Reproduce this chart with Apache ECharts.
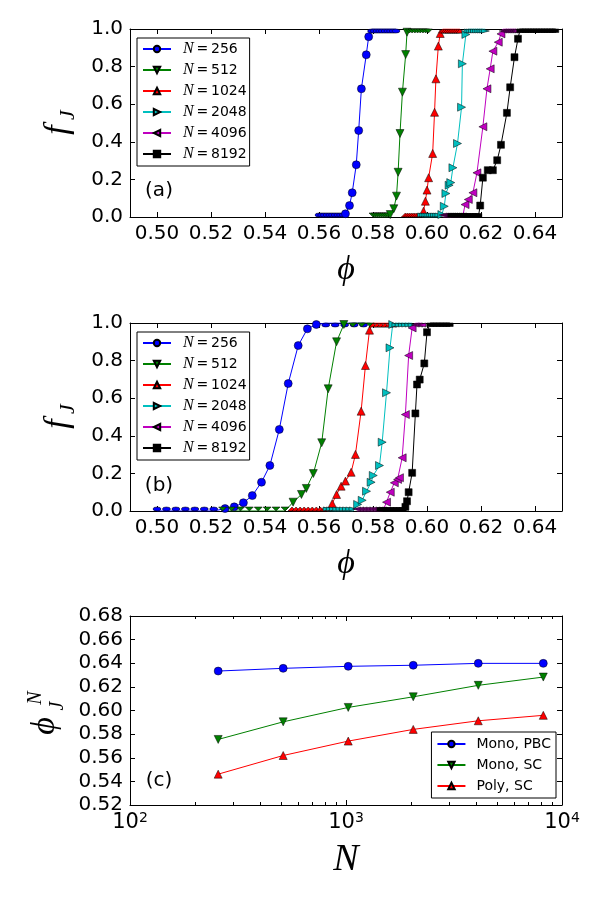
<!DOCTYPE html>
<html>
<head>
<meta charset="utf-8">
<script src="https://cdn.jsdelivr.net/npm/echarts@6/dist/echarts.min.js"></script>
<style>
  html, body { margin: 0; padding: 0; background: #fff; }
  #chart { width: 600px; height: 900px; }
</style>
</head>
<body>
<div id="chart"></div>
<script>
// tick labels
const phiTicks = [0.50, 0.52, 0.54, 0.56, 0.58, 0.60, 0.62, 0.64]
const fTicks = [0.0, 0.2, 0.4, 0.6, 0.8, 1.0]
const phiNTicks = [0.52, 0.54, 0.56, 0.58, 0.60, 0.62, 0.64, 0.66, 0.68]
const nTicks = [100, 1000, 10000]
const nMinorTicks = [200, 300, 400, 500, 600, 700, 800, 900, 2000, 3000, 4000, 5000, 6000, 7000, 8000, 9000]

const sizeNames = ['N=256', 'N=512', 'N=1024', 'N=2048', 'N=4096', 'N=8192']

// panel (a)
const phiA256 = [0.560, 0.561, 0.562, 0.563, 0.564, 0.565, 0.566, 0.567, 0.568, 0.569, 0.5698, 0.5713, 0.5723, 0.5738, 0.5747, 0.5757, 0.5775, 0.5784, 0.5795, 0.5805, 0.5815, 0.5825, 0.5835, 0.5845, 0.5855, 0.5865, 0.5875, 0.5885]
const fA256 = [0, 0, 0, 0, 0, 0, 0, 0, 0, 0, 0.017, 0.061, 0.129, 0.278, 0.460, 0.682, 0.863, 0.959, 1, 1, 1, 1, 1, 1, 1, 1, 1, 1]
const phiA512 = [0.5800, 0.5808, 0.5816, 0.5824, 0.5832, 0.5840, 0.5848, 0.5856, 0.5864, 0.5877, 0.5887, 0.5893, 0.5900, 0.5909, 0.5921, 0.5926, 0.5935, 0.5945, 0.5955, 0.5965, 0.5975, 0.5985, 0.5995, 0.6005]
const fA512 = [0, 0, 0, 0, 0, 0, 0, 0, 0.013, 0.044, 0.111, 0.238, 0.444, 0.664, 0.864, 0.983, 1, 1, 1, 1, 1, 1, 1, 1]
const phiA1024 = [0.5920, 0.5928, 0.5936, 0.5944, 0.5952, 0.5960, 0.5968, 0.5976, 0.5987, 0.5994, 0.6000, 0.6006, 0.6021, 0.6028, 0.6033, 0.6042, 0.6049, 0.6058, 0.6066, 0.6074, 0.6082, 0.6090, 0.6098, 0.6106, 0.6114, 0.6122]
const fA1024 = [0, 0, 0, 0, 0, 0, 0, 0, 0.031, 0.084, 0.143, 0.209, 0.338, 0.557, 0.735, 0.909, 0.976, 1, 1, 1, 1, 1, 1, 1, 1, 1]
const phiA2048 = [0.5980, 0.5988, 0.5996, 0.6004, 0.6012, 0.6020, 0.6028, 0.6036, 0.6044, 0.6055, 0.6064, 0.6070, 0.6082, 0.6088, 0.6096, 0.6113, 0.6128, 0.6131, 0.6144, 0.6152, 0.6160, 0.6168, 0.6176, 0.6184, 0.6192, 0.6200, 0.6208, 0.6216]
const fA2048 = [0, 0, 0, 0, 0, 0, 0, 0, 0, 0.013, 0.057, 0.125, 0.169, 0.183, 0.262, 0.391, 0.584, 0.815, 0.971, 1, 1, 1, 1, 1, 1, 1, 1, 1]
const phiA4096 = [0.6060, 0.6068, 0.6076, 0.6084, 0.6092, 0.6100, 0.6108, 0.6116, 0.6124, 0.6132, 0.6141, 0.6153, 0.6170, 0.6185, 0.6207, 0.6222, 0.6234, 0.6244, 0.6264, 0.6274, 0.6282, 0.6290, 0.6298, 0.6306, 0.6314, 0.6322, 0.6330]
const fA4096 = [0, 0, 0, 0, 0, 0, 0, 0, 0, 0, 0.066, 0.093, 0.129, 0.235, 0.480, 0.682, 0.788, 0.882, 0.930, 0.974, 1, 1, 1, 1, 1, 1, 1]
const phiA8192 = [0.6090, 0.6100, 0.6110, 0.6120, 0.6130, 0.6140, 0.6150, 0.6160, 0.6170, 0.6180, 0.6190, 0.6197, 0.6207, 0.6225, 0.6244, 0.6260, 0.6274, 0.6296, 0.6308, 0.6324, 0.6337, 0.6345, 0.6355, 0.6365, 0.6375, 0.6385, 0.6395, 0.6405, 0.6415, 0.6425, 0.6435, 0.6445, 0.6455, 0.6465, 0.6475]
const fA8192 = [0, 0, 0, 0, 0, 0, 0, 0, 0, 0, 0, 0.061, 0.209, 0.249, 0.249, 0.302, 0.384, 0.554, 0.690, 0.850, 0.948, 1, 1, 1, 1, 1, 1, 1, 1, 1, 1, 1, 1, 1, 1]

// panel (b)
const phiB256 = [0.5000, 0.5035, 0.5070, 0.5105, 0.5140, 0.5175, 0.5210, 0.5252, 0.5286, 0.5320, 0.5353, 0.5387, 0.5418, 0.5453, 0.5486, 0.5523, 0.5557, 0.5590, 0.5625, 0.5660, 0.5695, 0.5730, 0.5765]
const fB256 = [0, 0, 0, 0, 0, 0, 0, 0.013, 0.022, 0.044, 0.082, 0.153, 0.242, 0.434, 0.678, 0.880, 0.969, 0.992, 1, 1, 1, 1, 1]
const phiB512 = [0.5243, 0.5276, 0.5309, 0.5342, 0.5375, 0.5408, 0.5441, 0.5474, 0.5504, 0.5535, 0.5553, 0.5579, 0.5610, 0.5634, 0.5665, 0.5692, 0.5725, 0.5758, 0.5790]
const fB512 = [0, 0, 0, 0, 0, 0, 0, 0, 0.047, 0.088, 0.120, 0.199, 0.363, 0.650, 0.900, 0.992, 1, 1, 1]
const phiB1024 = [0.5500, 0.5515, 0.5530, 0.5545, 0.5560, 0.5575, 0.5590, 0.5605, 0.5620, 0.5635, 0.5649, 0.5665, 0.5682, 0.5698, 0.5719, 0.5735, 0.5756, 0.5772, 0.5787, 0.5800, 0.5815, 0.5830, 0.5845, 0.5860, 0.5875]
const fB1024 = [0, 0, 0, 0, 0, 0, 0, 0, 0, 0, 0.040, 0.088, 0.132, 0.159, 0.206, 0.301, 0.531, 0.774, 0.962, 1, 1, 1, 1, 1, 1]
const phiB2048 = [0.5630, 0.5642, 0.5654, 0.5666, 0.5678, 0.5690, 0.5702, 0.5714, 0.5726, 0.5743, 0.5760, 0.5776, 0.5793, 0.5801, 0.5824, 0.5834, 0.5850, 0.5863, 0.5873, 0.5885, 0.5897, 0.5909, 0.5921, 0.5933, 0.5945]
const fB2048 = [0, 0, 0, 0, 0, 0, 0, 0, 0, 0.035, 0.057, 0.105, 0.153, 0.189, 0.242, 0.366, 0.629, 0.868, 0.992, 1, 1, 1, 1, 1, 1]
const phiB4096 = [0.5740, 0.5752, 0.5764, 0.5776, 0.5788, 0.5800, 0.5812, 0.5824, 0.5836, 0.5850, 0.5864, 0.5879, 0.5891, 0.5898, 0.5908, 0.5920, 0.5932, 0.5945, 0.5957, 0.5969, 0.5981]
const fB4096 = [0, 0, 0, 0, 0, 0, 0, 0, 0, 0.047, 0.100, 0.150, 0.168, 0.177, 0.283, 0.513, 0.827, 0.974, 1, 1, 1]
const phiB8192 = [0.5828, 0.5840, 0.5852, 0.5864, 0.5876, 0.5888, 0.5900, 0.5910, 0.5920, 0.5926, 0.5932, 0.5945, 0.5957, 0.5963, 0.5973, 0.5990, 0.6000, 0.6012, 0.6024, 0.6036, 0.6048, 0.6060, 0.6072, 0.6084]
const fB8192 = [0, 0, 0, 0, 0, 0, 0, 0, 0.022, 0.052, 0.100, 0.203, 0.519, 0.673, 0.699, 0.785, 0.951, 1, 1, 1, 1, 1, 1, 1]

// panel (c)
const nValues = [256, 512, 1024, 2048, 4096, 8192]
const phiMonoPBC = [0.6334, 0.6357, 0.6374, 0.6383, 0.6399, 0.6399]
const phiMonoSC = [0.5755, 0.5904, 0.6026, 0.6116, 0.6213, 0.6283]
const phiPolySC = [0.5461, 0.5619, 0.5741, 0.5840, 0.5913, 0.5959]

const markers = [
  { symbol: 'circle', color: '#0000ff', size: 8 },
  { symbol: 'path://M0,0L2,0L1,2Z', color: '#008000', size: 8 },
  { symbol: 'path://M1,0L2,2L0,2Z', color: '#ff0000', size: 8 },
  { symbol: 'path://M0,0L2,1L0,2Z', color: '#00bfbf', size: 8 },
  { symbol: 'path://M2,0L0,1L2,2Z', color: '#bf00bf', size: 8 },
  { symbol: 'rect', color: '#000000', size: 7 }
]

const FONT = 'DejaVu Sans'
const MATH = 'Liberation Serif'
const axisLine = { show: true, onZero: false, lineStyle: { color: '#000', width: 1 } }
const tickStyle = { color: '#000', width: 1 }
const labelStyle = { color: '#000', fontSize: 20, fontFamily: FONT }

const grid = [
  { left: 130, top: 29, width: 432, height: 188 },
  { left: 130, top: 323, width: 432, height: 188 },
  { left: 130, top: 616, width: 432, height: 189 }
]
const xAxis = []
const yAxis = []

function ticksOnly(values, len) {
  return { show: true, inside: true, length: len, customValues: values, lineStyle: tickStyle }
}

// panels (a) and (b): phi vs f_J, four framed sides
for (let g = 0; g < 2; g++) {
  xAxis.push({
    type: 'value', gridIndex: g, position: 'bottom', min: 0.49, max: 0.65,
    axisLine, splitLine: { show: false }, axisTick: ticksOnly(phiTicks, 5),
    axisLabel: Object.assign({ customValues: phiTicks, margin: 7, formatter: v => v.toFixed(2) }, labelStyle)
  })
  xAxis.push({
    type: 'value', gridIndex: g, position: 'top', min: 0.49, max: 0.65,
    axisLine, splitLine: { show: false }, axisTick: ticksOnly(phiTicks, 5), axisLabel: { show: false }
  })
  yAxis.push({
    type: 'value', gridIndex: g, position: 'left', min: 0, max: 1,
    axisLine, splitLine: { show: false }, axisTick: ticksOnly(fTicks, 5),
    axisLabel: Object.assign({ customValues: fTicks, margin: 7, formatter: v => v.toFixed(1) }, labelStyle)
  })
  yAxis.push({
    type: 'value', gridIndex: g, position: 'right', min: 0, max: 1,
    axisLine, splitLine: { show: false }, axisTick: ticksOnly(fTicks, 5), axisLabel: { show: false }
  })
}

// panel (c): log N vs phi_J^N
xAxis.push({
  type: 'log', logBase: 10, gridIndex: 2, position: 'bottom', min: 100, max: 10000,
  axisLine, splitLine: { show: false }, axisTick: ticksOnly(nTicks, 5),
  axisLabel: {
    customValues: nTicks, margin: 6, color: '#000',
    formatter: v => '{b|10}{s|' + Math.round(Math.log10(v)) + '}',
    rich: {
      b: { fontSize: 21, fontFamily: FONT, color: '#000', lineHeight: 24 },
      s: { fontSize: 14, fontFamily: FONT, color: '#000', verticalAlign: 'top', lineHeight: 12 }
    }
  }
})
xAxis.push({
  type: 'log', logBase: 10, gridIndex: 2, position: 'top', min: 100, max: 10000,
  axisLine, splitLine: { show: false }, axisTick: ticksOnly(nTicks, 5), axisLabel: { show: false }
})
xAxis.push({
  type: 'log', logBase: 10, gridIndex: 2, position: 'bottom', min: 100, max: 10000,
  axisLine: { show: false }, splitLine: { show: false }, axisTick: ticksOnly(nMinorTicks, 3), axisLabel: { show: false }
})
xAxis.push({
  type: 'log', logBase: 10, gridIndex: 2, position: 'top', min: 100, max: 10000,
  axisLine: { show: false }, splitLine: { show: false }, axisTick: ticksOnly(nMinorTicks, 3), axisLabel: { show: false }
})
yAxis.push({
  type: 'value', gridIndex: 2, position: 'left', min: 0.52, max: 0.68,
  axisLine, splitLine: { show: false }, axisTick: ticksOnly(phiNTicks, 5),
  axisLabel: Object.assign({ customValues: phiNTicks, margin: 7, formatter: v => v.toFixed(2) }, labelStyle)
})
yAxis.push({
  type: 'value', gridIndex: 2, position: 'right', min: 0.52, max: 0.68,
  axisLine, splitLine: { show: false }, axisTick: ticksOnly(phiNTicks, 5), axisLabel: { show: false }
})

// points lying on the frame are half hidden by the axes in the original
function points(phi, f, size) {
  return phi.map((p, i) => {
    const v = f[i]
    if (v <= 0 || v >= 1) {
      return { value: [p, v], symbolSize: [size, size / 2], symbolOffset: [0, v <= 0 ? -size / 4 : size / 4] }
    }
    return [p, v]
  })
}

function lineSeries(name, m, xi, yi, data) {
  return {
    name, type: 'line', xAxisIndex: xi, yAxisIndex: yi, data,
    symbol: m.symbol, symbolSize: m.size, showAllSymbol: true,
    lineStyle: { color: m.color, width: 1 },
    itemStyle: { color: m.color, borderColor: '#000', borderWidth: 0.5 },
    emphasis: { disabled: true }
  }
}

const panelA = [[phiA256, fA256], [phiA512, fA512], [phiA1024, fA1024], [phiA2048, fA2048], [phiA4096, fA4096], [phiA8192, fA8192]]
const panelB = [[phiB256, fB256], [phiB512, fB512], [phiB1024, fB1024], [phiB2048, fB2048], [phiB4096, fB4096], [phiB8192, fB8192]]

const series = []
panelA.forEach((d, i) => series.push(lineSeries(sizeNames[i], markers[i], 0, 0, points(d[0], d[1], markers[i].size))))
panelB.forEach((d, i) => series.push(lineSeries(sizeNames[i], markers[i], 2, 2, points(d[0], d[1], markers[i].size))))

const panelC = [
  ['Mono, PBC', phiMonoPBC, markers[0]],
  ['Mono, SC', phiMonoSC, markers[1]],
  ['Poly, SC', phiPolySC, markers[2]]
]
panelC.forEach(([name, vals, m]) => {
  series.push(lineSeries(name, Object.assign({}, m, { size: 8 }), 4, 4, nValues.map((n, i) => [n, vals[i]])))
})

const sizeLegend = top => ({
  orient: 'vertical', left: 137, top, itemWidth: 28, itemHeight: 8, itemGap: 5,
  padding: [3, 3, 4, 5], borderColor: '#000', borderWidth: 1, borderRadius: 0,
  backgroundColor: '#fff', selectedMode: false, data: sizeNames,
  formatter: name => '{i|N}{t|\u2009=\u2009' + name.slice(2) + '}',
  textStyle: {
    fontSize: 14, lineHeight: 16, color: '#000',
    rich: {
      i: { fontFamily: MATH, fontStyle: 'italic', fontSize: 16, color: '#000', padding: [0, 0, 0, 7] },
      t: { fontFamily: FONT, fontSize: 14, color: '#000' }
    }
  }
})

const mathText = (x, y, text, size) => ({
  type: 'text', x, y,
  style: { text, fontSize: size, fontFamily: MATH, fontStyle: 'italic', fill: '#000', align: 'center', verticalAlign: 'middle' }
})
const plainText = (x, y, text) => ({
  type: 'text', x, y,
  style: { text, fontSize: 20, fontFamily: FONT, fill: '#000', align: 'center', verticalAlign: 'middle' }
})

const option = {
  animation: false,
  backgroundColor: '#fff',
  grid, xAxis, yAxis, series,
  legend: [
    sizeLegend(38),
    sizeLegend(332),
    {
      orient: 'vertical', right: 44, bottom: 102, itemWidth: 28, itemHeight: 8, itemGap: 5,
      padding: [4, 5, 4, 5], borderColor: '#000', borderWidth: 1, borderRadius: 0,
      backgroundColor: '#fff', selectedMode: false, data: ['Mono, PBC', 'Mono, SC', 'Poly, SC'],
      textStyle: { fontSize: 14, lineHeight: 16, fontFamily: FONT, color: '#000', padding: [0, 0, 0, 6] }
    }
  ],
  graphic: [
    plainText(159, 191, '(a)'),
    plainText(159, 486, '(b)'),
    plainText(159, 781, '(c)'),
    mathText(346, 270, '\u03d5', 34),
    mathText(346, 564, '\u03d5', 34),
    mathText(346, 860, 'N', 38),
    { type: 'group', x: 62, y: 124, rotation: Math.PI / 2, children: [mathText(-6, -4, 'f', 34), mathText(9, 6, 'J', 22)] },
    { type: 'group', x: 62, y: 418, rotation: Math.PI / 2, children: [mathText(-6, -4, 'f', 34), mathText(9, 6, 'J', 22)] },
    {
      type: 'group', x: 47, y: 712, rotation: Math.PI / 2,
      children: [mathText(-14, -2, '\u03d5', 34), mathText(6, 11, 'J', 20), mathText(14, -11, 'N', 20)]
    }
  ]
}

const chart = echarts.init(document.getElementById('chart'))
chart.setOption(option)
</script>
</body>
</html>
